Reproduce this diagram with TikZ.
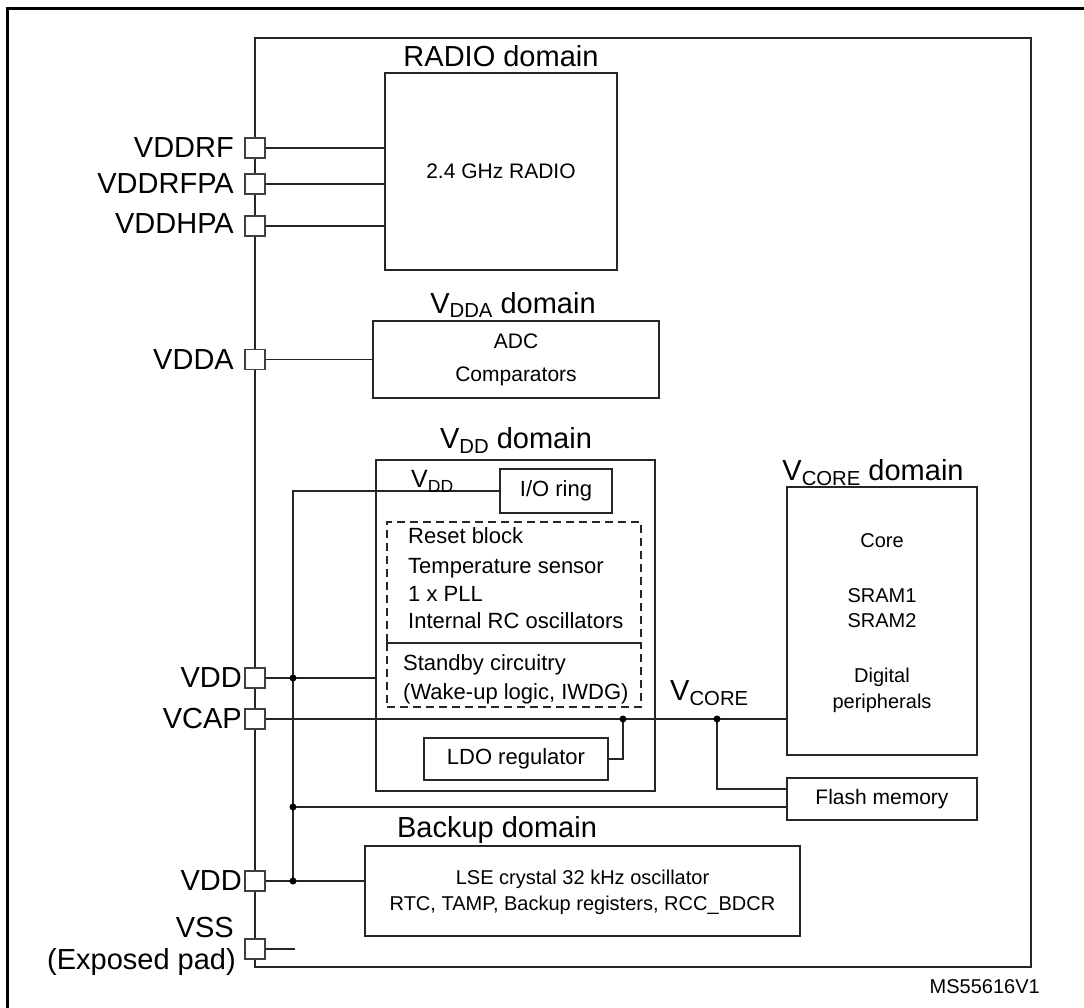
\documentclass[tikz,border=0pt]{standalone}
\usepackage{fontspec}
\setmainfont{Liberation Sans}
\newcommand\Vsub[1]{V\raisebox{-5pt}{\scalebox{0.7}{#1}}}
\begin{document}
\begin{tikzpicture}[x=1pt,y=-1pt,
  box/.style={draw=black!85, line width=1.3pt, inner sep=0pt},
  dbox/.style={draw=black!85, line width=1.2pt, dash pattern=on 8pt off 5pt, inner sep=0pt},
  wire/.style={draw=black!85, line width=1.2pt},
  pin/.style={draw=black!75, fill=white, line width=1.1pt, minimum size=20pt, inner sep=0pt},
  dot/.style={circle, fill=black, inner sep=0pt, minimum size=7pt},
  big/.style={font=\fontsize{29}{34}\selectfont, inner sep=0pt},
  mid/.style={font=\fontsize{22}{26}\selectfont, inner sep=0pt},
  sml/.style={font=\fontsize{20}{24}\selectfont, inner sep=0pt}]
\clip (0,0) rectangle (1084,1008);
\draw[line width=3pt] (7.5,1030) -- (7.5,8.5) -- (1100,8.5);
\node[box, minimum width=776pt, minimum height=929pt] (chip) at (643,502.5) {};

% boxes
\node[box, minimum width=232pt, minimum height=197pt, font=\fontsize{21}{25}\selectfont] (radio) at (501,171.5) {2.4 GHz RADIO};
\node[box, minimum width=286pt, minimum height=77pt, font=\fontsize{21}{33}\selectfont, align=center] (adc) at (516,359.5) {ADC\\Comparators};
\node[box, minimum width=279pt, minimum height=331pt] (vddb) at (515.5,625.5) {};
\node[box, minimum width=112pt, minimum height=44pt, font=\fontsize{22}{26}\selectfont] (io) at (556,491) {I/O ring};
\node[dbox, minimum width=254pt, minimum height=121pt] (dsa) at (514,582.5) {};
\node[dbox, minimum width=254pt, minimum height=64pt] (dsb) at (514,675) {};
\node[box, minimum width=184pt, minimum height=42pt, font=\fontsize{22}{26}\selectfont] (ldo) at (516,759) {LDO regulator};
\node[box, minimum width=190pt, minimum height=268pt] (core) at (882,621) {};
\node[box, minimum width=190pt, minimum height=42pt, font=\fontsize{21}{25}\selectfont] (flash) at (882,799) {Flash memory};
\node[box, minimum width=435pt, minimum height=90pt] (bkp) at (582.5,891) {};

% pins
\node[pin] (prf) at (255,148) {};
\node[pin] (prfpa) at (255,184) {};
\node[pin] (phpa) at (255,226) {};
\node[pin] (pdda) at (255,359.5) {};
\node[pin] (pvdd) at (255,678) {};
\node[pin] (pcap) at (255,719) {};
\node[pin] (pvdd2) at (255,881) {};
\node[pin] (pvss) at (255,949) {};
\coordinate (vssend) at (295,949);

% junctions
\coordinate (d1c) at (293,678);
\coordinate (d2c) at (293,807);
\coordinate (d3c) at (293,881);
\coordinate (dlc) at (623,719);
\coordinate (dcc) at (717,719);

% wires
\draw[wire] (prf.east) -- (prf -| radio.west);
\draw[wire] (prfpa.east) -- (prfpa -| radio.west);
\draw[wire] (phpa.east) -- (phpa -| radio.west);
\draw[wire] (pdda.east) -- (pdda -| adc.west);
\draw[wire] (io.west) -| (d3c);
\draw[wire] (pvdd.east) -- (pvdd -| vddb.west);
\draw[wire] (pcap.east) -- (pcap -| core.west);
\draw[wire] (ldo.east) -| (dlc);
\draw[wire] (dcc) |- ([yshift=10pt]flash.west);
\draw[wire] (d2c) -- (d2c -| flash.west);
\draw[wire] (pvdd2.east) -- (pvdd2 -| bkp.west);
\draw[wire] (pvss.east) -- (vssend);

\node[dot] (d1) at (d1c) {};
\node[dot] (d2) at (d2c) {};
\node[dot] (d3) at (d3c) {};
\node[dot] (dl) at (dlc) {};
\node[dot] (dc) at (dcc) {};

% pin labels
\node[big, anchor=east] (lrf) at (234,148) {VDDRF};
\node[big, anchor=east] (lrfpa) at (234,184) {VDDRFPA};
\node[big, anchor=east] (lhpa) at (234,224) {VDDHPA};
\node[big, anchor=east] (ldda) at (234,359.5) {VDDA};
\node[big, anchor=east] (lvdd) at (242,678) {VDD};
\node[big, anchor=east] (lcap) at (242,719) {VCAP};
\node[big, anchor=east] (lvdd2) at (242,881) {VDD};
\node[big, anchor=base east] (lvss) at (234,937) {VSS};
\node[big, anchor=base east] (lpad) at (236,969) {(Exposed pad)};

% domain labels
\node[big, anchor=base] (tradio) at (501,67) {RADIO domain};
\node[big, anchor=base] (tdda) at (513,313) {\Vsub{DDA} domain};
\node[big, anchor=base] (tdd) at (516,448) {\Vsub{DD} domain};
\node[big, anchor=base] (tcore) at (873,480) {\Vsub{CORE} domain};
\node[big, anchor=base] (tbkp) at (497,837) {Backup domain};

\node[font=\fontsize{25}{30}\selectfont, inner sep=0pt, anchor=base west] (tvddin) at (411,487) {\Vsub{DD}};
\node[big, anchor=base west] (tvcore) at (670,700) {\Vsub{CORE}};

% VDD domain contents
\node[mid, anchor=base west] (t1) at (408,543) {Reset block};
\node[mid, anchor=base west] (t2) at (408,573) {Temperature sensor};
\node[mid, anchor=base west] (t3) at (408,601) {1 x PLL};
\node[mid, anchor=base west] (t4) at (408,628) {Internal RC oscillators};
\node[mid, anchor=base west] (t5) at (403,670) {Standby circuitry};
\node[mid, anchor=base west] (t6) at (403,699) {(Wake-up logic, IWDG)};

% core contents
\node[sml, anchor=base] (c1) at (882,547) {Core};
\node[sml, anchor=base] (c2) at (882,602) {SRAM1};
\node[sml, anchor=base] (c3) at (882,627) {SRAM2};
\node[sml, anchor=base] (c4) at (882,682) {Digital};
\node[sml, anchor=base] (c5) at (882,708) {peripherals};

% backup contents
\node[sml, anchor=base] (b1) at (582.5,884) {LSE crystal 32 kHz oscillator};
\node[sml, anchor=base] (b2) at (582.5,910) {RTC, TAMP, Backup registers, RCC\_BDCR};

\node[sml, anchor=base east] (ms) at (1040,993) {MS55616V1};
\end{tikzpicture}
\end{document}
